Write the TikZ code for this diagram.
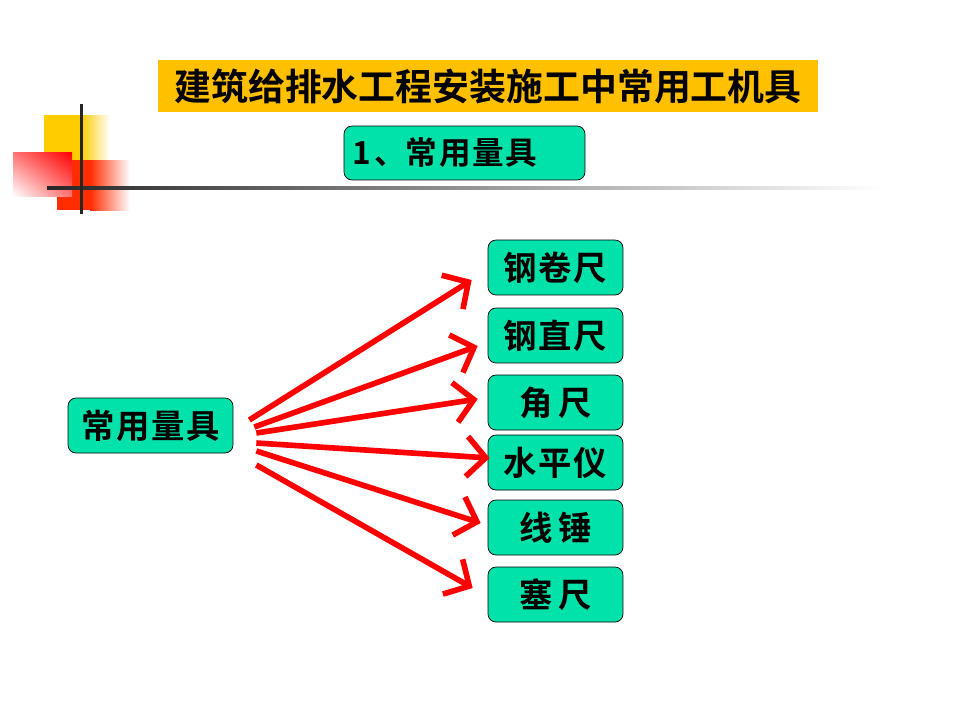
\documentclass[tikz,border=0pt]{standalone}
\usepackage{fontspec}
\newfontfamily\cjk{Noto Sans CJK SC}[BoldFont={Noto Sans CJK SC Bold}]
\usetikzlibrary{arrows.meta,positioning,shadings}
\definecolor{slideorange}{RGB}{255,192,0}
\definecolor{slidegreen}{RGB}{0,226,170}
\definecolor{slidered}{RGB}{255,0,0}
\definecolor{slidevermilion}{RGB}{255,45,0}
\definecolor{slideyellow}{RGB}{255,204,0}

\begin{document}
\begin{tikzpicture}[x=0.02cm, y=-0.02cm,
    title/.style={rectangle, fill=slideorange, minimum width=13.2cm,
                  minimum height=1.04cm, inner sep=0pt,
                  font=\cjk\bfseries\fontsize{21}{25}\selectfont},
    sub/.style={rectangle, draw=black, fill=slidegreen, rounded corners=1.6mm,
                minimum width=4.82cm, minimum height=1.08cm, inner sep=0pt,
                text width=4.5cm, align=left,
                font=\cjk\bfseries\fontsize{18}{22}\selectfont},
    root/.style={rectangle, draw=black, fill=slidegreen, rounded corners=1.6mm,
                 minimum width=3.3cm, minimum height=1.1cm, inner sep=0pt,
                 font=\cjk\bfseries\fontsize{19}{22}\selectfont},
    tool/.style={root, minimum width=2.7cm},
    arr/.style={-{Straight Barb[length=3.8mm, width=8mm]},
                line width=3.2pt, slidered},
  ]
  \useasboundingbox (0,0) rectangle (960,720);

  % Ecke oben links
  \fill[slideyellow] (44,115) rectangle (81,160);
  \shade[left color=slideyellow, right color=white] (81,115) rectangle (110,160);
  \fill[slidevermilion] (57,160) rectangle (90,210);
  \shade[left color=slidevermilion, right color=white] (90,160) rectangle (130,210);
  \shade[upper left=slidered!55, upper right=slidered,
         lower left=white, lower right=slidered!55] (13,152) rectangle (72,196);
  \shade[left color=black!85, middle color=black!60, right color=white]
    (47,186.5) rectangle (880,189.5);
  \fill[black!85] (79.5,104) rectangle (82.5,214);

  % Titel
  \node[title] (head) at (488,86) {建筑给排水工程安装施工中常用工机具};
  \node[sub] (part) at (464.5,153) {1\kern2pt、常\kern1pt 用\kern1pt 量\kern1pt 具};

  % Wurzel
  \node[root] (src) at (150.5,425.5) {常\kern1pt 用\kern1pt 量\kern1pt 具};

  % Werkzeuge
  \foreach \i/\y/\t in {1/267.5/钢\kern1pt 卷\kern1pt 尺, 2/335.5/钢\kern1pt 直\kern1pt 尺,
                        3/402.5/角\,尺, 4/462.5/水\kern1pt 平\kern1pt 仪,
                        5/527.5/线\,锤, 6/594.5/塞\,尺} {
    \node[tool] (t\i) at (555.5,\y) {\t};
  }

  % Pfeile
  \foreach \i/\sx/\sy/\ex/\ey in {1/16/-5.5/-16/12.5, 2/21/1.5/-10/10.5,
                                  3/23/7.5/-10/-3.5, 4/23/17.5/2/-4.5,
                                  5/23/25.5/-7/-4.5, 6/23/39.5/-15/-6.5} {
    \draw[arr] ([shift={(\sx,\sy)}]src.east) -- ([shift={(\ex,\ey)}]t\i.west);
  }
\end{tikzpicture}
\end{document}
